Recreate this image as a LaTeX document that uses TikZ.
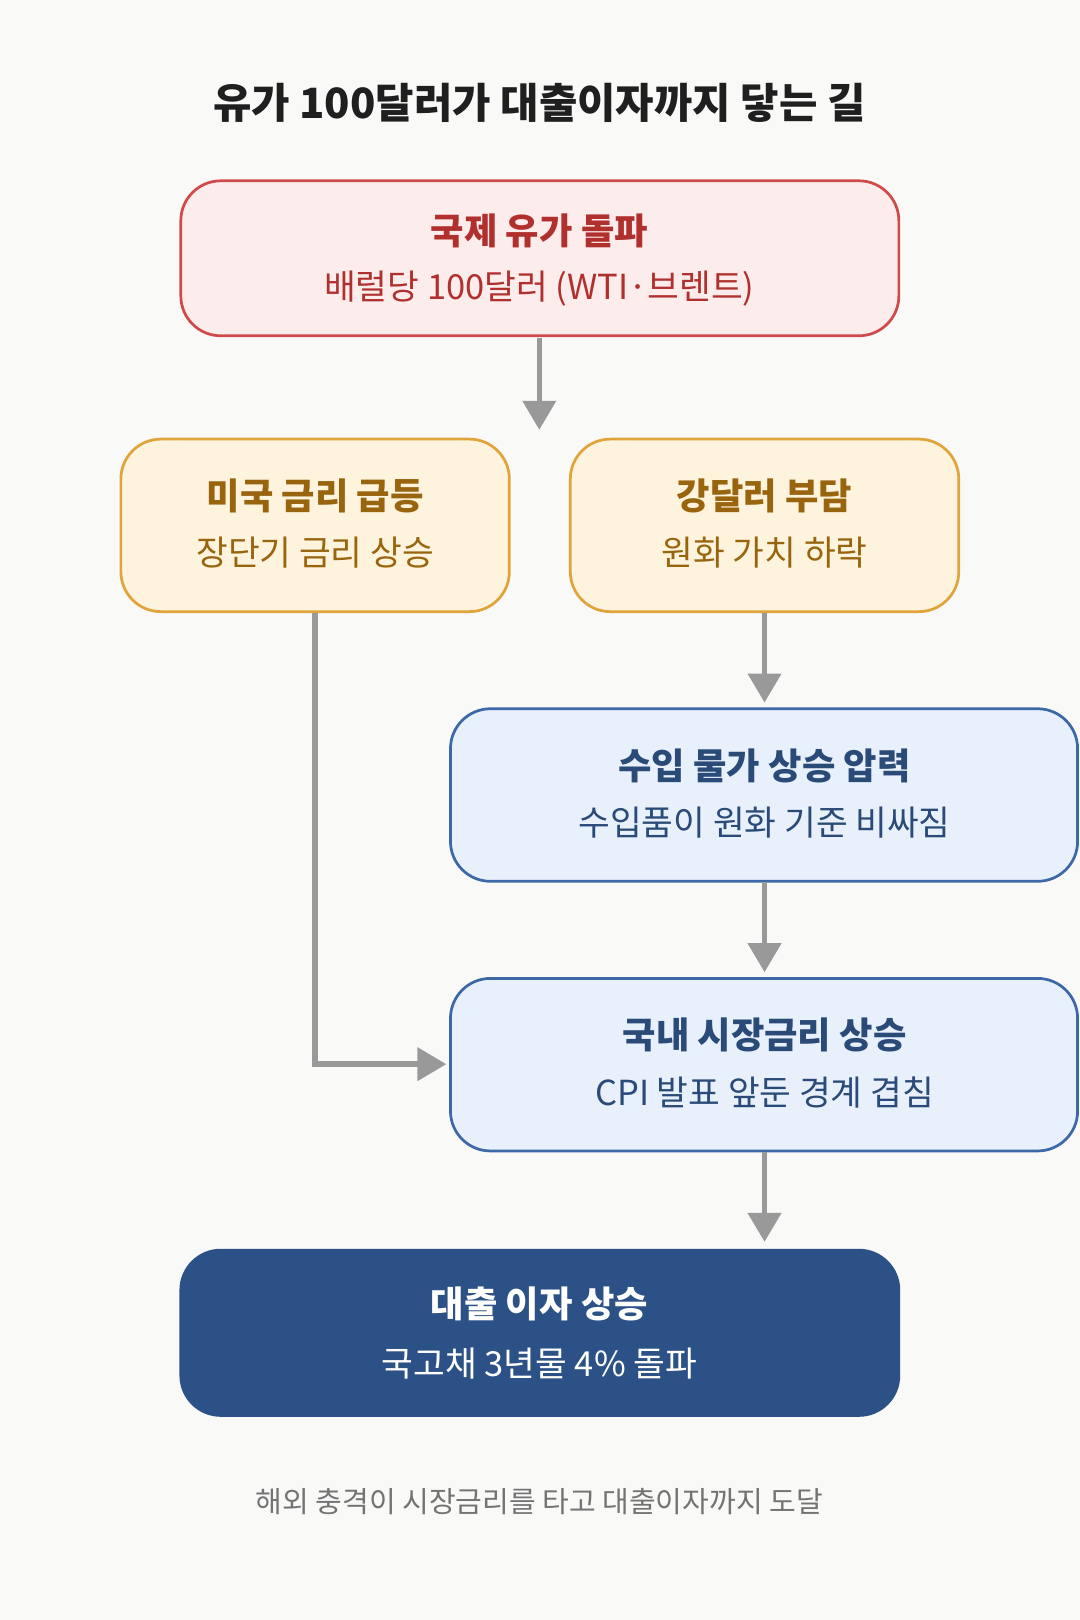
\documentclass[tikz,border=0pt]{standalone}
\usepackage{fontspec}
\setmainfont{Noto Sans CJK KR}
\usetikzlibrary{arrows.meta}
\definecolor{redfill}{HTML}{FDECEC}
\definecolor{redline}{HTML}{D04A4A}
\definecolor{redtext}{HTML}{B0302E}
\definecolor{orfill}{HTML}{FEF3DC}
\definecolor{orline}{HTML}{E0A43A}
\definecolor{ortext}{HTML}{98640E}
\definecolor{blfill}{HTML}{E8F0FB}
\definecolor{blline}{HTML}{3D68A8}
\definecolor{bltext}{HTML}{2A4A78}
\definecolor{darkbl}{HTML}{2C5186}
\definecolor{arrgray}{HTML}{999999}
\definecolor{bg}{HTML}{F9F9F8}

\tikzset{
  box/.style={rounded corners=22, line width=1.5pt},
  redbox/.style={box, draw=redline, fill=redfill},
  orbox/.style={box, draw=orline, fill=orfill},
  blbox/.style={box, draw=blline, fill=blfill},
  darkbox/.style={box, draw=darkbl, fill=darkbl},
  flow/.style={draw=arrgray, line width=3pt, -{Triangle[length=16pt,width=18pt]}},
  head/.style={font=\fontsize{20}{24}\selectfont\bfseries},
  sub/.style={font=\fontsize{19}{23}\selectfont}
}

\begin{document}
\begin{tikzpicture}[x=0.02cm, y=-0.02cm]
	% background
	\fill[bg] (0,0) rectangle (1045,1568);
	\useasboundingbox (0,0) rectangle (1045,1568);

	\node[font=\fontsize{23}{28}\selectfont\bfseries, text=black!88] (title) at (522,100) {유가 100달러가 대출이자까지 닿는 길};

	% boxes
	\draw[redbox] (175,175) rectangle (870,325);
	\node[head, text=redtext] (oilh) at (522,223) {국제 유가 돌파};
	\node[sub, text=redtext] (oils) at (522,279) {배럴당 100달러 (WTI·브렌트)};

	\draw[orbox] (117,425) rectangle (493,592);
	\node[head, text=ortext] (ush) at (305,480) {미국 금리 급등};
	\node[sub, text=ortext] (uss) at (305,535) {장단기 금리 상승};

	\draw[orbox] (552,425) rectangle (928,592);
	\node[head, text=ortext] (dolh) at (740,480) {강달러 부담};
	\node[sub, text=ortext] (dols) at (740,535) {원화 가치 하락};

	\draw[blbox] (436,686) rectangle (1043,853);
	\node[head, text=bltext] (imph) at (740,741) {수입 물가 상승 압력};
	\node[sub, text=bltext] (imps) at (740,796) {수입품이 원화 기준 비싸짐};

	\draw[blbox] (436,947) rectangle (1043,1114);
	\node[head, text=bltext] (mkth) at (740,1002) {국내 시장금리 상승};
	\node[sub, text=bltext] (mkts) at (740,1057) {CPI 발표 앞둔 경계 겹침};

	\draw[darkbox] (175,1210) rectangle (870,1370);
	\node[head, text=white] (loanh) at (522,1262) {대출 이자 상승};
	\node[sub, text=white] (loans) at (522,1320) {국고채 3년물 4\% 돌파};

	\node[font=\fontsize{16}{20}\selectfont, text=black!55] (note) at (522,1453) {해외 충격이 시장금리를 타고 대출이자까지 도달};

	% connectors
	\coordinate (a1) at (522,327);
	\coordinate (a2) at (522,416);
	\draw[flow] (a1) -- (a2);
	\coordinate (b1) at (740,593);
	\coordinate (b2) at (740,680);
	\draw[flow] (b1) -- (b2);
	\coordinate (c1) at (740,854);
	\coordinate (c2) at (740,941);
	\draw[flow] (c1) -- (c2);
	\coordinate (d1) at (740,1115);
	\coordinate (d2) at (740,1202);
	\draw[flow] (d1) -- (d2);
	\coordinate (e1) at (305,593);
	\coordinate (e2) at (432,1030);
	\draw[flow] (e1) |- (e2);
\end{tikzpicture}
\end{document}
